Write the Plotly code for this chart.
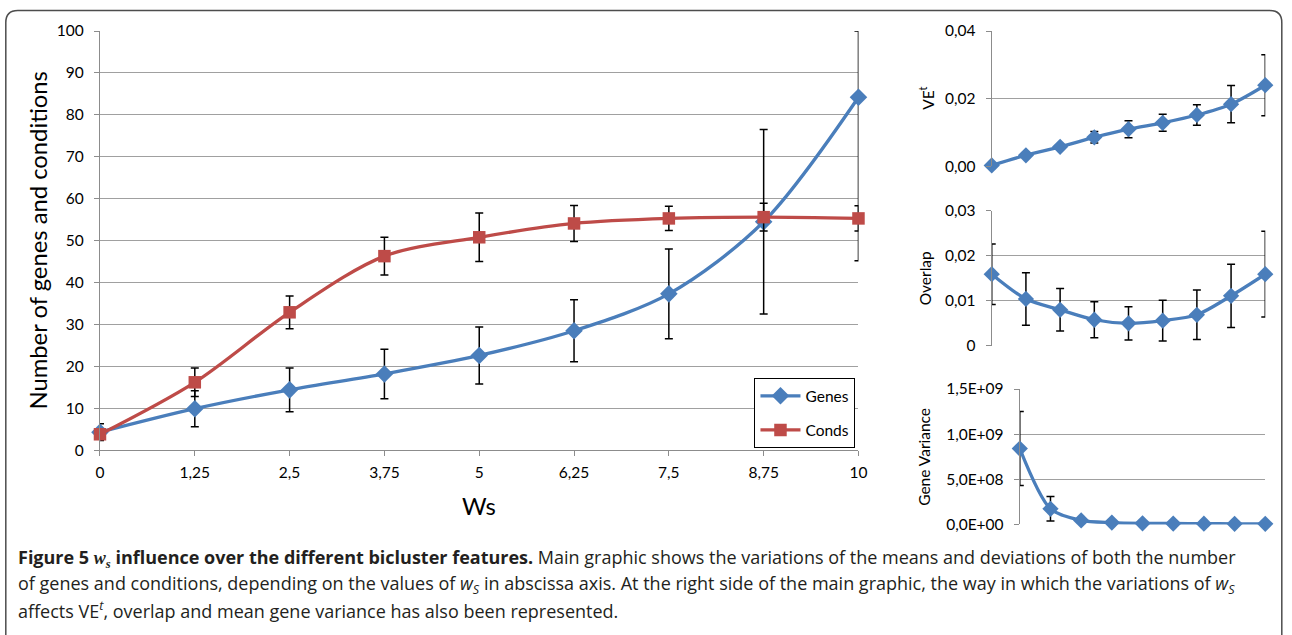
import plotly.graph_objects as go

W, H = 1292, 635

# ---------------- data ----------------
ws = [0, 1.25, 2.5, 3.75, 5, 6.25, 7.5, 8.75, 10]
ws_labels = ["0", "1,25", "2,5", "3,75", "5", "6,25", "7,5", "8,75", "10"]

genes_mean = [4.3, 9.9, 14.4, 18.2, 22.6, 28.5, 37.3, 54.5, 84.2]
genes_err = [2.0, 4.3, 5.2, 5.9, 6.8, 7.4, 10.7, 22.0, 39.0]
conds_mean = [3.8, 16.2, 32.9, 46.3, 50.8, 54.1, 55.3, 55.6, 55.3]
conds_err = [0.0, 3.4, 3.9, 4.5, 5.8, 4.3, 2.9, 3.3, 3.0]

ve_mean = [0.0003, 0.0033, 0.0058, 0.0086, 0.0110, 0.0129, 0.0152, 0.0184, 0.0240]
ve_err = [0.0, 0.0, 0.0, 0.0017, 0.0025, 0.0025, 0.0030, 0.0055, 0.0090]

ov_mean = [0.0159, 0.0104, 0.0080, 0.0058, 0.0050, 0.0056, 0.0069, 0.0111, 0.0159]
ov_err = [0.0067, 0.0058, 0.0047, 0.0040, 0.0037, 0.0045, 0.0055, 0.0070, 0.0095]

gv_mean = [8.4e8, 1.73e8, 4.4e7, 2.0e7, 1.2e7, 1.0e7, 8e6, 7e6, 7e6]
gv_err = [4.1e8, 1.35e8, 0, 0, 0, 0, 0, 0, 0]

main_yticks = [0, 10, 20, 30, 40, 50, 60, 70, 80, 90, 100]
ve_ticks = [0, 0.02, 0.04]
ve_ticklabels = ["0,00", "0,02", "0,04"]
ov_ticks = [0, 0.01, 0.02, 0.03]
ov_ticklabels = ["0", "0,01", "0,02", "0,03"]
gv_ticks = [0, 5e8, 1e9, 1.5e9]
gv_ticklabels = ["0,0E+00", "5,0E+08", "1,0E+09", "1,5E+09"]

MAIN_YMAX = 100

BLUE = "#4A7EBB"
RED = "#BE4B48"
GRID = "#A0A0A0"
AXIS = "#8C8C8C"
FONT = "Lato"

# calibration of where the photographed page lands in the picture
SX, BX, SY, BY = 0.988, 4.2, 0.969, 10.0


def px_x(r):
    return ((r - BX) / SX) / W


def px_y(r):
    return 1 - ((r - BY) / SY) / H


fig = go.Figure()

err_style = dict(color="black", thickness=1.5, width=4)

# main chart
fig.add_trace(go.Scatter(
    x=ws, y=genes_mean, name="Genes", mode="lines+markers",
    line=dict(color=BLUE, width=3.3, shape="spline", smoothing=0.9),
    marker=dict(symbol="diamond", size=13.5, color=BLUE),
    error_y=dict(type="data", symmetric=False,
                 array=[min(e, MAIN_YMAX - m) for m, e in zip(genes_mean, genes_err)],
                 arrayminus=genes_err, **err_style),
    cliponaxis=False, legendgroup="g", xaxis="x", yaxis="y"))
fig.add_trace(go.Scatter(
    x=ws, y=conds_mean, name="Conds", mode="lines+markers",
    line=dict(color=RED, width=3.3, shape="spline", smoothing=0.9),
    marker=dict(symbol="square", size=12.5, color=RED),
    error_y=dict(type="data", array=conds_err, **err_style),
    cliponaxis=False, legendgroup="c", xaxis="x", yaxis="y"))

# small charts
for vals, errs, xa, ya in [(ve_mean, ve_err, "x2", "y2"),
                           (ov_mean, ov_err, "x3", "y3"),
                           (gv_mean, gv_err, "x4", "y4")]:
    fig.add_trace(go.Scatter(
        x=ws, y=vals, mode="lines+markers", showlegend=False,
        line=dict(color=BLUE, width=3.3, shape="spline", smoothing=0.8),
        marker=dict(symbol="diamond", size=12.5, color=BLUE),
        error_y=dict(type="data", array=errs, **err_style),
        cliponaxis=False, xaxis=xa, yaxis=ya))

tickfont = dict(family=FONT, size=15.5, color="black")

common_x = dict(range=[0, 10], showgrid=False, zeroline=False, fixedrange=True)
common_y = dict(showgrid=True, gridcolor=GRID, gridwidth=1.2, zeroline=False,
                showline=True, linecolor=AXIS, linewidth=1.2,
                ticks="outside", ticklen=5, tickcolor=AXIS, tickfont=tickfont,
                ticklabelstandoff=7, fixedrange=True)

fig.update_layout(
    width=W, height=H, margin=dict(l=0, r=0, t=0, b=0, pad=0),
    paper_bgcolor="white", plot_bgcolor="white",
    font=dict(family=FONT, color="black"),
    showlegend=True,
    legend=dict(x=px_x(753), y=px_y(377), xanchor="left", yanchor="top",
                bordercolor="black", borderwidth=1.2, bgcolor="white",
                font=dict(family=FONT, size=15.5, color="black"),
                traceorder="grouped", tracegroupgap=11, itemwidth=40),
    xaxis=dict(domain=[px_x(100), px_x(857)], anchor="y",
               tickvals=ws, ticktext=ws_labels, ticks="outside", ticklen=5,
               tickcolor=AXIS, showline=True, linecolor=AXIS, linewidth=1.2,
               tickfont=tickfont, ticklabelstandoff=3, **common_x),
    yaxis=dict(domain=[px_y(449), px_y(31)], anchor="x", range=[0, MAIN_YMAX],
               tickvals=main_yticks, **common_y),
    xaxis2=dict(domain=[px_x(990), px_x(1263)], anchor="y2", showticklabels=False,
                ticks="", showline=False, **common_x),
    yaxis2=dict(domain=[px_y(166), px_y(31)], anchor="x2", range=[0, 0.04],
                tickvals=ve_ticks, ticktext=ve_ticklabels, **common_y),
    xaxis3=dict(domain=[px_x(990), px_x(1263)], anchor="y3", showticklabels=False,
                ticks="", showline=False, **common_x),
    yaxis3=dict(domain=[px_y(345), px_y(210)], anchor="x3", range=[0, 0.03],
                tickvals=ov_ticks, ticktext=ov_ticklabels, **common_y),
    xaxis4=dict(domain=[px_x(1018), px_x(1263)], anchor="y4", showticklabels=False,
                ticks="", showline=False, **common_x),
    yaxis4=dict(domain=[px_y(523), px_y(388)], anchor="x4", range=[0, 1.5e9],
                tickvals=gv_ticks, ticktext=gv_ticklabels, **common_y),
)

# axis titles
ann = []
ann.append(dict(text="Number of genes and conditions", x=px_x(38), y=px_y(240),
                textangle=-90, font=dict(family=FONT, size=23.8, color="black")))
ann.append(dict(text="Ws", x=px_x(478), y=px_y(505),
                font=dict(family=FONT, size=23.8, color="black")))
ann.append(dict(text="VE<sup>t</sup>", x=px_x(925), y=px_y(98),
                textangle=-90, font=dict(family=FONT, size=15.5, color="black")))
ann.append(dict(text="Overlap", x=px_x(923), y=px_y(278),
                textangle=-90, font=dict(family=FONT, size=15.5, color="black")))
ann.append(dict(text="Gene Variance", x=px_x(923), y=px_y(456),
                textangle=-90, font=dict(family=FONT, size=15.5, color="black")))
for a in ann:
    a.update(xref="paper", yref="paper", showarrow=False, xanchor="center", yanchor="middle")

CAP = "#231F20"
CAPFONT = "Open Sans"
ws_I = "<i>w<sub>S</sub></i>"
cap_lines = [
    "<b>Figure 5 <span style='font-family:Liberation Serif'><i>w<sub>s</sub></i></span> influence over the different bicluster features.</b> "
    "Main graphic shows the variations of the means and deviations of both the number",
    "of genes and conditions, depending on the values of " + ws_I +
    " in abscissa axis. At the right side of the main graphic, the way in which the variations of " + ws_I,
    "affects VE<sup><i>t</i></sup>, overlap and mean gene variance has also been represented.",
]
for i, t in enumerate(cap_lines):
    fig.add_annotation(text=t, xref="paper", yref="paper", x=px_x(16), y=px_y(557 + 25.5 * i),
                       xanchor="left", yanchor="middle", showarrow=False, align="left",
                       font=dict(family=CAPFONT, size=18.0, color=CAP))
for a in ann:
    fig.add_annotation(**a)

# frame with rounded top corners (open at bottom)
x0, x1, yt, yb = 6, 1279.5, 10.6, 640
r = 12
path = (f"M {px_x(x0)},{px_y(yb)} L {px_x(x0)},{px_y(yt + r)} "
        f"Q {px_x(x0)},{px_y(yt)} {px_x(x0 + r)},{px_y(yt)} "
        f"L {px_x(x1 - r)},{px_y(yt)} Q {px_x(x1)},{px_y(yt)} {px_x(x1)},{px_y(yt + r)} "
        f"L {px_x(x1)},{px_y(yb)}")
fig.add_shape(type="path", path=path, xref="paper", yref="paper",
              line=dict(color="#4D4D4D", width=1.5))

fig.write_html("out.html", config={"displayModeBar": False},
               post_script="document.body.style.margin='0px';")
